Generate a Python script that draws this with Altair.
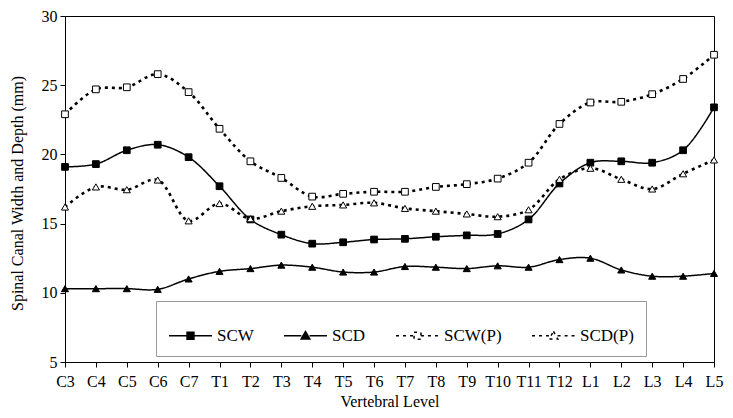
import altair as alt
import pandas as pd

levels = ["C3", "C4", "C5", "C6", "C7", "T1", "T2", "T3", "T4", "T5", "T6",
          "T7", "T8", "T9", "T10", "T11", "T12", "L1", "L2", "L3", "L4", "L5"]
series = ["SCW", "SCD", "SCW(P)", "SCD(P)"]

SCW = [19.1, 19.3, 20.3, 20.7, 19.8, 17.7, 15.3, 14.2, 13.55, 13.65, 13.85,
       13.9, 14.05, 14.15, 14.25, 15.3, 17.9, 19.4, 19.5, 19.4, 20.3, 23.4]
SCD = [10.3, 10.3, 10.3, 10.25, 11.0, 11.55, 11.75, 12.0, 11.85, 11.5, 11.5,
       11.9, 11.85, 11.75, 11.95, 11.85, 12.4, 12.5, 11.65, 11.2, 11.2, 11.4]
SCW_P = [22.9, 24.7, 24.85, 25.8, 24.5, 21.85, 19.5, 18.3, 16.95, 17.15, 17.3,
         17.3, 17.65, 17.85, 18.25, 19.4, 22.2, 23.75, 23.8, 24.35, 25.45, 27.2]
SCD_P = [16.2, 17.65, 17.45, 18.15, 15.2, 16.45, 15.35, 15.9, 16.25, 16.35, 16.5,
         16.1, 15.9, 15.7, 15.5, 16.0, 18.2, 19.0, 18.2, 17.5, 18.6, 19.6]

rows = []
for name, vals in zip(series, [SCW, SCD, SCW_P, SCD_P]):
    for lv, v in zip(levels, vals):
        rows.append({"level": lv, "value": v, "series": name})
df = pd.DataFrame(rows)

FONT = "Liberation Serif"

sq = "M-1,0H-0.16M0.16,0H1M-0.16,-0.16H0.16V0.16H-0.16Z"
tri = "M-1,0H-0.19M0.19,0H1M0,-0.2L0.2,0.15H-0.2Z"
shape_expr = f"indexof(['SCW','SCW(P)'], datum.value) >= 0 ? '{sq}' : '{tri}'"
fill_expr = "indexof(['SCW','SCD'], datum.value) >= 0 ? 'black' : 'white'"

legend = alt.Legend(
    title=None, orient="none", legendX=91, legendY=285, direction="horizontal",
    columns=4, columnPadding=27, padding=12, strokeColor="#999999", fillColor="white",
    labelFont=FONT, labelFontSize=17, labelColor="black", labelOffset=4,
    symbolSize=1849, symbolStrokeColor="black", symbolStrokeWidth=1.5,
    symbolType=alt.ExprRef(expr=shape_expr),
    symbolFillColor=alt.ExprRef(expr=fill_expr),
)

x = alt.X("level:N", sort=levels, scale=alt.Scale(type="point", padding=0),
          axis=alt.Axis(title="Vertebral Level", labelAngle=0, tickSize=5,
                        labelPadding=19, labelBaseline="alphabetic",
                        titleY=44, titleBaseline="alphabetic"))
y = alt.Y("value:Q", scale=alt.Scale(domain=[5, 30], nice=False, zero=False),
          axis=alt.Axis(title="Spinal Canal Width and Depth (mm)",
                        values=[5, 10, 15, 20, 25, 30], grid=False, tickSize=5,
                        labelPadding=3, titleX=-40, titleY=177,
                        titleBaseline="bottom", titleAlign="center", titleAngle=-90))

dash = alt.StrokeDash("series:N", sort=series,
                      scale=alt.Scale(domain=series, range=[[1, 0], [1, 0], [3, 4], [3, 4]]),
                      legend=legend)
fill = alt.Fill("series:N", sort=series,
                scale=alt.Scale(domain=series, range=["black", "black", "white", "white"]),
                legend=None)

base = alt.Chart(df)

solid = base.transform_filter(
    alt.FieldOneOfPredicate(field="series", oneOf=["SCW", "SCD"])
).mark_line(interpolate="catmull-rom", color="black", strokeWidth=1.5).encode(
    x=x, y=y, strokeDash=dash)

dashed = base.transform_filter(
    alt.FieldOneOfPredicate(field="series", oneOf=["SCW(P)", "SCD(P)"])
).mark_line(interpolate="catmull-rom", color="black", strokeWidth=2.6).encode(
    x=x, y=y, strokeDash=dash)

squares = base.transform_filter(
    alt.FieldOneOfPredicate(field="series", oneOf=["SCW", "SCW(P)"])
).mark_point(shape="square", filled=True, stroke="black", strokeWidth=1,
             size=45, opacity=1).encode(x=x, y=y, fill=fill)

triangles = base.transform_filter(
    alt.FieldOneOfPredicate(field="series", oneOf=["SCD", "SCD(P)"])
).mark_point(shape="triangle-up", filled=True, stroke="black", strokeWidth=1,
             size=50, opacity=1).encode(x=x, y=y, fill=fill)

chart = (solid + dashed + squares + triangles).properties(
    width=649, height=346,
    autosize=alt.AutoSizeParams(type="none"),
    padding={"left": 57, "top": 8, "right": 11, "bottom": 48},
).configure_view(stroke="black", strokeWidth=1).configure_axis(
    domainColor="black", tickColor="black", labelColor="black", titleColor="black",
    labelFont=FONT, titleFont=FONT, labelFontSize=16, titleFontSize=16,
    titleFontWeight="normal",
)

chart.save("out.html", embed_options={"renderer": "svg", "actions": False})
